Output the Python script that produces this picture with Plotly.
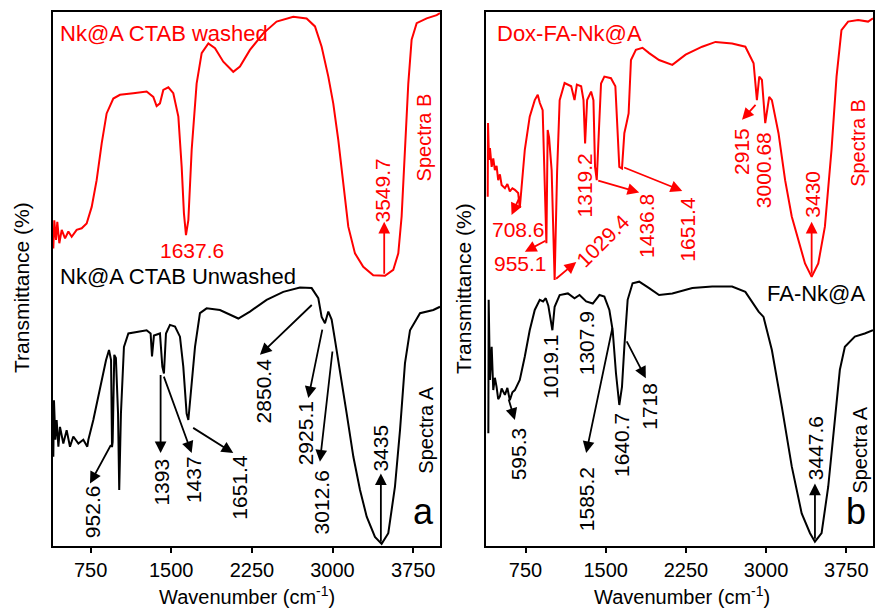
import plotly.graph_objects as go

# ---------------- Data (wavenumber cm^-1, transmittance in arbitrary %) ----------------
# Panel a - Spectra B (red): Nk@A CTAB washed
a_red_wn = [403, 412, 428, 440, 459, 481, 512, 543, 574, 620, 667, 713, 760, 806, 853, 899, 961, 1023,
            1147, 1271, 1333, 1364, 1395, 1426, 1473, 1519, 1566, 1597, 1618, 1637, 1659, 1690, 1736,
            1783, 1845, 1907, 1984, 2077, 2139, 2232, 2356, 2480, 2635, 2759, 2837, 2899, 2961, 3007,
            3054, 3100, 3147, 3209, 3286, 3379, 3488, 3565, 3612, 3643, 3674, 3705, 3736, 3783, 3876,
            3969, 4000]
a_red_t = [55.7, 61.0, 57.3, 60.7, 56.7, 59.2, 57.6, 58.9, 57.9, 59.2, 59.5, 60.4, 63.5, 68.5, 75.4, 81.0,
           83.8, 84.5, 84.8, 85.1, 84.1, 82.4, 82.9, 85.4, 85.9, 84.8, 80.4, 71.0, 62.3, 58.2, 61.0, 74.2,
           86.6, 92.3, 94.1, 93.2, 90.7, 88.8, 89.8, 92.9, 96.0, 98.2, 99.1, 98.8, 97.3, 93.5, 87.9, 82.9,
           76.0, 67.9, 59.8, 54.8, 52.3, 50.7, 50.6, 51.7, 54.8, 61.7, 74.2, 86.6, 94.8, 97.9, 98.8,
           99.4, 99.8]

# Panel a - Spectra A (black): Nk@A CTAB Unwashed
a_blk_wn = [403, 409, 422, 434, 450, 465, 496, 527, 558, 589, 636, 682, 719, 729, 775, 837, 893, 921, 940,
            949, 955, 970, 985, 1005, 1016, 1032, 1060, 1101, 1178, 1271, 1308, 1321, 1339, 1395, 1417,
            1432, 1451, 1488, 1535, 1581, 1612, 1643, 1659, 1680, 1721, 1767, 1829, 1953, 2046, 2124,
            2232, 2387, 2542, 2697, 2806, 2868, 2899, 2930, 2961, 2992, 3023, 3070, 3132, 3194, 3256,
            3318, 3395, 3457, 3519, 3581, 3628, 3674, 3721, 3814, 3938, 4000]
a_blk_t = [16.7, 27.3, 19.9, 23.6, 18.6, 22.3, 19.2, 21.7, 18.6, 20.5, 19.2, 19.9, 18.6, 19.9, 23.6, 29.8,
           34.8, 36.7, 34.8, 18.5, 19.5, 35.8, 35.2, 24.8, 10.5, 24.8, 37.3, 39.8, 40.1, 40.4, 39.8, 35.5,
           39.4, 39.8, 33.6, 32.3, 39.8, 41.4, 41.1, 39.2, 33.6, 24.8, 23.6, 28.0, 37.3, 43.6, 44.5, 44.2,
           43.3, 42.6, 43.9, 46.1, 47.6, 48.4, 48.3, 46.4, 42.9, 41.7, 43.9, 42.4, 38.6, 33.0, 24.8, 16.7,
           10.5, 5.5, 1.7, 0.4, 2.4, 11.1, 21.7, 34.2, 40.4, 43.6, 44.2, 44.8]

# Panel b - Spectra B (red): Dox-FA-Nk@A
b_red_wn = [396, 399, 408, 417, 433, 448, 463, 479, 494, 510, 526, 557, 580, 603, 627, 650, 681, 696, 712,
            743, 789, 836, 864, 883, 910, 929, 945, 957, 970, 994, 1010, 1022, 1045, 1069, 1115, 1177,
            1208, 1230, 1270, 1292, 1307, 1326, 1363, 1385, 1400, 1416, 1435, 1456, 1487, 1549, 1590,
            1627, 1652, 1674, 1695, 1714, 1736, 1782, 1844, 1906, 1999, 2123, 2247, 2402, 2527, 2682,
            2806, 2883, 2914, 2936, 2961, 2992, 3029, 3054, 3116, 3178, 3240, 3302, 3364, 3426, 3488,
            3550, 3612, 3659, 3705, 3767, 3861, 3954, 4000]
b_red_t = [65.4, 79.2, 72.3, 74.5, 71.0, 72.6, 70.4, 71.2, 68.5, 69.6, 67.6, 67.0, 67.8, 66.4, 67.0, 66.7,
           66.1, 63.3, 67.0, 74.2, 80.4, 83.5, 84.5, 83.0, 81.6, 70.0, 56.7, 77.9, 76.5, 70.4, 60.0, 49.8,
           70.0, 83.5, 86.7, 86.1, 83.5, 86.4, 86.1, 83.5, 75.4, 83.5, 85.1, 83.5, 71.0, 68.5, 77.3, 86.6,
           87.9, 87.6, 86.1, 71.0, 70.7, 77.3, 79.2, 81.0, 91.0, 92.9, 93.3, 92.3, 91.0, 90.1, 92.0, 93.5,
           94.4, 94.1, 93.5, 90.4, 83.5, 87.9, 87.3, 79.2, 84.1, 83.5, 77.3, 68.5, 61.7, 57.3, 52.9, 50.4,
           52.9, 59.8, 74.2, 87.9, 96.6, 98.2, 98.5, 98.2, 98.8]

# Panel b - Spectra A (black): FA-Nk@A
b_blk_wn = [402, 405, 417, 433, 448, 463, 479, 494, 510, 526, 557, 580, 603, 627, 650, 696, 743, 789, 836,
            883, 914, 939, 963, 1001, 1022, 1069, 1146, 1208, 1255, 1317, 1379, 1441, 1487, 1534, 1565,
            1596, 1627, 1652, 1674, 1705, 1751, 1813, 1906, 1999, 2123, 2310, 2496, 2682, 2806, 2899,
            2930, 2976, 3054, 3147, 3240, 3333, 3411, 3457, 3519, 3581, 3644, 3690, 3737, 3830, 3923,
            4000]
b_blk_t = [21.1, 46.1, 31.1, 37.3, 29.2, 31.5, 29.8, 27.5, 28.0, 29.5, 28.3, 29.6, 27.3, 28.8, 29.2, 31.1,
           35.5, 40.4, 44.2, 46.1, 45.8, 46.4, 45.0, 40.4, 44.8, 47.0, 47.3, 46.4, 47.0, 45.8, 45.4, 47.0,
           46.7, 44.2, 40.4, 32.3, 26.4, 29.8, 37.3, 46.1, 49.2, 49.5, 48.3, 47.0, 47.3, 48.3, 48.6, 48.6,
           47.6, 44.8, 43.9, 42.9, 36.7, 26.1, 14.9, 6.1, 2.4, 0.8, 2.4, 11.1, 23.6, 33.0, 37.3, 39.2,
           39.8, 40.4]

tick_vals = [750, 1500, 2250, 3000, 3750]

# Peak labels: (panel, text, wavenumber, transmittance, angle, colour)
RED = "#ff0000"
BLK = "#000000"
peak_labels = [
    ("a", "1637.6", 1690, 55.4, 0, RED),
    ("a", "3549.7", 3466, 66.5, -90, RED),
    ("a", "952.6", 775, 6.4, -90, BLK),
    ("a", "1393", 1411, 12.0, -90, BLK),
    ("a", "1437", 1705, 12.4, -90, BLK),
    ("a", "1651.4", 2139, 11.1, -90, BLK),
    ("a", "2850.4", 2356, 29.0, -90, BLK),
    ("a", "2925.1", 2744, 21.1, -90, BLK),
    ("a", "3012.6", 2899, 8.1, -90, BLK),
    ("a", "3435", 3450, 18.4, -90, BLK),
    ("b", "708.6", 687, 59.3, 0, RED),
    ("b", "955.1", 703, 52.9, 0, RED),
    ("b", "1029.4", 1472, 57.3, -45, RED),
    ("b", "1319.2", 1301, 67.6, -90, RED),
    ("b", "1436.8", 1875, 59.9, -90, RED),
    ("b", "1651.4", 2263, 59.3, -90, RED),
    ("b", "2915", 2775, 73.8, -90, RED),
    ("b", "3000.68", 2976, 70.3, -90, RED),
    ("b", "3430", 3426, 65.9, -90, RED),
    ("b", "595.3", 681, 17.2, -90, BLK),
    ("b", "1019.1", 976, 33.5, -90, BLK),
    ("b", "1307.9", 1317, 38.0, -90, BLK),
    ("b", "1585.2", 1317, 8.8, -90, BLK),
    ("b", "1640.7", 1642, 18.9, -90, BLK),
    ("b", "1718", 1906, 26.1, -90, BLK),
    ("b", "3447.6", 3457, 18.3, -90, BLK),
]

# Arrows: (panel, tail wn, tail T, head wn, head T, colour)
peak_arrows = [
    ("a", 3481, 50.7, 3481, 60.7, RED),
    ("a", 946, 19.2, 744, 11.7, BLK),
    ("a", 1401, 32.3, 1401, 17.4, BLK),
    ("a", 1426, 32.0, 1690, 17.4, BLK),
    ("a", 1690, 22.3, 2077, 17.4, BLK),
    ("a", 2821, 45.4, 2325, 35.8, BLK),
    ("a", 2908, 40.8, 2775, 27.7, BLK),
    ("a", 3001, 36.7, 2883, 15.8, BLK),
    ("a", 3450, 0.5, 3450, 13.6, BLK),
    ("b", 703, 65.7, 619, 62.0, RED),
    ("b", 951, 57.3, 743, 55.1, RED),
    ("b", 1022, 49.8, 1224, 53.2, RED),
    ("b", 1416, 68.5, 1813, 66.2, RED),
    ("b", 1658, 71.0, 2216, 66.5, RED),
    ("b", 2914, 82.9, 2775, 79.8, RED),
    ("b", 3426, 50.7, 3426, 60.7, RED),
    ("b", 588, 27.7, 650, 23.6, BLK),
    ("b", 1565, 41.1, 1317, 17.4, BLK),
    ("b", 1689, 38.6, 1875, 31.4, BLK),
    ("b", 3457, 1.1, 3457, 11.7, BLK),
]

FONT = "Arial, Liberation Sans, sans-serif"
W, H = 875, 608

def px_x(p):
    return p / W

def px_y(p):
    return 1 - p / H

fig = go.Figure()
for xs, ys, col, ax in [(a_red_wn, a_red_t, RED, "a"), (a_blk_wn, a_blk_t, BLK, "a"),
                        (b_red_wn, b_red_t, RED, "b"), (b_blk_wn, b_blk_t, BLK, "b")]:
    fig.add_trace(go.Scatter(x=xs, y=ys, mode="lines", line=dict(color=col, width=2),
                             xaxis="x" if ax == "a" else "x2", yaxis="y" if ax == "a" else "y2",
                             showlegend=False, hoverinfo="skip"))

xcommon = dict(tickvals=tick_vals, ticks="outside", ticklen=5, tickwidth=2, tickcolor="black",
               showline=True, linewidth=2, linecolor="black", mirror=True, showgrid=False,
               zeroline=False, tickfont=dict(family=FONT, size=20, color="black"))
ycommon = dict(range=[0, 100], showticklabels=False, ticks="", showline=True, linewidth=2,
               linecolor="black", mirror=True, showgrid=False, zeroline=False)

fig.update_layout(
    width=W, height=H, margin=dict(l=0, r=0, t=0, b=0),
    paper_bgcolor="white", plot_bgcolor="white",
    xaxis=dict(domain=[px_x(53), px_x(440)], range=[400, 4000], anchor="y", **xcommon),
    yaxis=dict(domain=[px_y(546), px_y(12)], anchor="x", **ycommon),
    xaxis2=dict(domain=[px_x(486), px_x(873)], range=[380, 4000], anchor="y2", **xcommon),
    yaxis2=dict(domain=[px_y(546), px_y(12)], anchor="x2", **ycommon),
)

ann = []
def refs(p):
    return ("x", "y") if p == "a" else ("x2", "y2")

for p, txt_, x, y, ang, col in peak_labels:
    xr, yr = refs(p)
    ann.append(dict(xref=xr, yref=yr, x=x, y=y, text=txt_, textangle=ang, showarrow=False,
                    xanchor="center", yanchor="middle", font=dict(family=FONT, size=21, color=col)))

for p, x0, y0, x1, y1, col in peak_arrows:
    xr, yr = refs(p)
    ann.append(dict(xref=xr, yref=yr, axref=xr, ayref=yr, x=x1, y=y1, ax=x0, ay=y0, text="",
                    showarrow=True, arrowhead=2, arrowsize=1.3, arrowwidth=1.8, arrowcolor=col,
                    standoff=0, startstandoff=0))

def txt(xr, yr, x, y, t, size, col, ang=0, xa="center"):
    return dict(xref=xr, yref=yr, x=x, y=y, text=t, textangle=ang, showarrow=False, xanchor=xa,
                yanchor="middle", font=dict(family=FONT, size=size, color=col))

# Series names, spectra tags and panel letters
ann += [
    txt("x", "y", 450, 96.0, "Nk@A CTAB washed", 22, RED, xa="left"),
    txt("x", "y", 450, 50.4, "Nk@A CTAB Unwashed", 22, BLK, xa="left"),
    txt("x", "y", 3860, 76.5, "Spectra B", 20, RED, ang=-90),
    txt("x", "y", 3875, 21.7, "Spectra A", 20, BLK, ang=-90),
    txt("x", "y", 3842, 6.5, "a", 36, BLK),
    txt("x2", "y2", 464, 96.0, "Dox-FA-Nk@A", 22, RED, xa="left"),
    txt("x2", "y2", 3463, 47.3, "FA-Nk@A", 22, BLK),
    txt("x2", "y2", 3860, 75.5, "Spectra B", 20, RED, ang=-90),
    txt("x2", "y2", 3876, 18.0, "Spectra A", 20, BLK, ang=-90),
    txt("x2", "y2", 3845, 6.5, "b", 36, BLK),
    # axis titles
    txt("paper", "paper", px_x(22), px_y(288), "Transmittance (%)", 21, BLK, ang=-90),
    txt("paper", "paper", px_x(464), px_y(288), "Transmittance (%)", 21, BLK, ang=-90),
    txt("paper", "paper", px_x(247), px_y(595), "Wavenumber (cm<sup>-1</sup>)", 20, BLK),
    txt("paper", "paper", px_x(682), px_y(595), "Wavenumber (cm<sup>-1</sup>)", 20, BLK),
]
fig.update_layout(annotations=ann)

fig.write_html("out.html")
